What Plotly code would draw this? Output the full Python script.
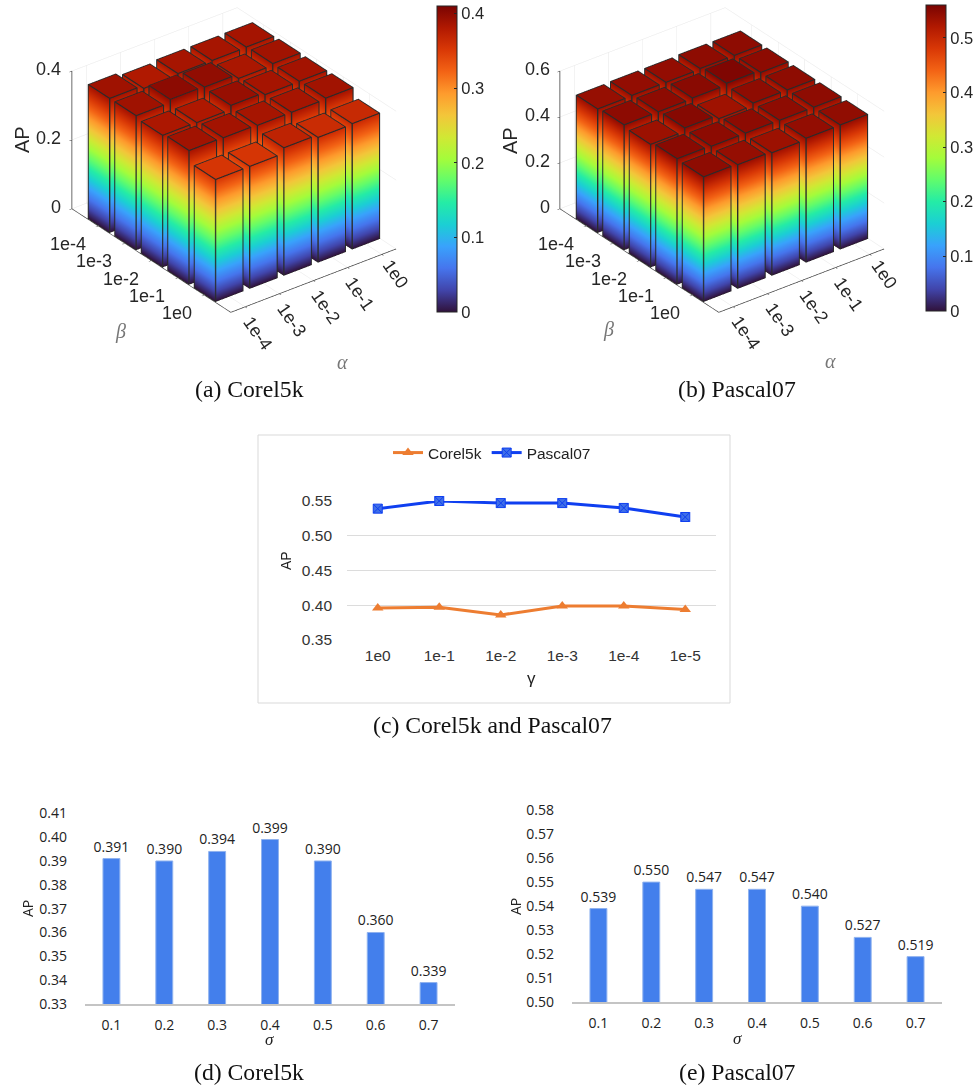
import plotly.graph_objects as go
import plotly.colors as pc

W, H = 979, 1088
alpha_labels = ["1e-4", "1e-3", "1e-2", "1e-1", "1e0"]
beta_labels = ["1e0", "1e-1", "1e-2", "1e-3", "1e-4"]   # front to back
# rows: beta (front to back), columns: alpha
corel_ap = [
    [0.355, 0.355, 0.371, 0.363, 0.365],
    [0.389, 0.388, 0.386, 0.386, 0.389],
    [0.383, 0.382, 0.394, 0.387, 0.388],
    [0.390, 0.3995, 0.397, 0.384, 0.389],
    [0.390, 0.381, 0.386, 0.386, 0.387],
]
pascal_ap = [
    [0.544, 0.540, 0.535, 0.541, 0.542],
    [0.548, 0.545, 0.545, 0.544, 0.544],
    [0.535, 0.550, 0.533, 0.544, 0.544],
    [0.545, 0.545, 0.548, 0.555, 0.545],
    [0.539, 0.541, 0.541, 0.544, 0.544],
]
gamma_labels = ["1e0", "1e-1", "1e-2", "1e-3", "1e-4", "1e-5"]
gamma_corel = [0.396, 0.397, 0.386, 0.399, 0.399, 0.394]
gamma_pascal = [0.539, 0.550, 0.547, 0.547, 0.540, 0.527]
sigma_labels = ["0.1", "0.2", "0.3", "0.4", "0.5", "0.6", "0.7"]
sigma_corel = [0.391, 0.390, 0.394, 0.399, 0.390, 0.360, 0.339]
sigma_pascal = [0.539, 0.550, 0.547, 0.547, 0.540, 0.527, 0.519]

TURBO = pc.sequential.Turbo
SANS = "Liberation Sans"
SERIF = "Liberation Serif"
NOTO = "Open Sans"
INK = "#262626"
XMIN, XMAX = 0.58, 5.42   # just wider than the bars, so the scene does not clip their outer faces
# Only the three faces the camera can see: low-y side, low-x side, top.
BOX_TRIS = [(0, 1, 5), (0, 5, 4), (3, 0, 4), (3, 4, 7), (4, 5, 6), (4, 6, 7)]
BOX_EDGES = [(0, 1), (3, 0), (4, 5), (5, 6), (6, 7), (7, 4), (0, 4), (1, 5), (3, 7)]


def fx(px):
    return px / W


def fy(py):
    return 1 - py / H


def add_box(m, x0, x1, y0, y1, z0, z1):
    b = len(m["x"])
    for z in (z0, z1):
        for a, e in ((x0, y0), (x1, y0), (x1, y1), (x0, y1)):
            m["x"].append(a); m["y"].append(e); m["z"].append(z)
    for t in BOX_TRIS:
        m["i"].append(b + t[0]); m["j"].append(b + t[1]); m["k"].append(b + t[2])


def empty_mesh():
    return dict(x=[], y=[], z=[], i=[], j=[], k=[])


def boxes(values, zmax, bar_w=0.8):
    """Bars back to front, plus their outlines as thin dark prisms along each box edge."""
    bars, lines = empty_mesh(), empty_mesh()
    d = bar_w / 2
    w = 0.011
    wz = zmax * 0.0022
    for r in reversed(range(len(values))):
        for c in reversed(range(len(values[r]))):
            v = values[r][c]
            cx, cy = c + 1, r + 1
            add_box(bars, cx - d, cx + d, cy - d, cy + d, 0, v)
            corners = [(cx - d, cy - d, 0), (cx + d, cy - d, 0), (cx + d, cy + d, 0), (cx - d, cy + d, 0),
                       (cx - d, cy - d, v), (cx + d, cy - d, v), (cx + d, cy + d, v), (cx - d, cy + d, v)]
            for p, q in BOX_EDGES:
                P, Q = corners[p], corners[q]
                add_box(lines, min(P[0], Q[0]) - w, max(P[0], Q[0]) + w,
                        min(P[1], Q[1]) - w, max(P[1], Q[1]) + w,
                        max(min(P[2], Q[2]) - wz, 0), min(max(P[2], Q[2]) + wz, zmax))
    return bars, lines


def add_bars(fig, values, scene, zmax, cmax, ticks, cb_x, cb_top):
    bars, lines = boxes(values, zmax)
    flat = dict(ambient=1, diffuse=0, specular=0, roughness=1, fresnel=0)
    fig.add_trace(go.Mesh3d(
        **bars, intensity=bars["z"], colorscale=TURBO, cmin=0, cmax=cmax,
        flatshading=False, scene=scene, hoverinfo="skip", lighting=flat,
        colorbar=dict(
            x=fx(cb_x), xanchor="left", y=fy(cb_top), yanchor="top", len=306, lenmode="pixels",
            thickness=20, thicknessmode="pixels", tickvals=ticks, ticktext=[f"{t:g}" for t in ticks],
            ticks="inside", ticklen=3, tickcolor=INK, outlinewidth=1, outlinecolor=INK,
            tickfont=dict(family=SANS, size=16.5, color=INK), xpad=0, ypad=0,
        ),
    ))
    fig.add_trace(go.Mesh3d(**lines, color="#2a2a2a", flatshading=True, scene=scene, hoverinfo="skip", lighting=flat))


def scene_layout(x0, zticks, zmax):
    ax = dict(showbackground=False, showgrid=True, gridcolor="#e6e6e6", gridwidth=1,
              zeroline=False, showline=True, linecolor="#3a3a3a", linewidth=1.5,
              ticks="outside", ticklen=3, tickcolor="#3a3a3a", showticklabels=False,
              showspikes=False, title=dict(text=""))
    anns = []
    f = dict(family=SANS, size=18, color=INK)
    for n, t in enumerate(alpha_labels):
        short = len(t) == 3
        anns.append(dict(x=n + 1, y=0, z=0, text=t, showarrow=False, textangle=55,
                         xshift=14 if short else 13, yshift=-20 if short else -26, font=f,
                         xanchor="center", yanchor="middle"))
    for n, t in enumerate(beta_labels):
        anns.append(dict(x=XMIN, y=n + 1, z=0, text=t, showarrow=False, xanchor="right", yanchor="middle",
                         xshift=-10, yshift=-18, font=f))
    for t in zticks:
        anns.append(dict(x=XMIN, y=6, z=t, text=f"{t:g}", showarrow=False, xanchor="right", yanchor="middle",
                         xshift=-8, yshift=2, font=f))
    cx, cy = x0 + 161.8, 160
    half_w, half_h = 225, 155
    r = 2
    return dict(
        domain=dict(x=[fx(cx - half_w), fx(cx + half_w)], y=[fy(cy + half_h), fy(cy - half_h)]),
        aspectmode="manual", aspectratio=dict(x=1.344, y=1.684, z=1.026),
        camera=dict(projection=dict(type="orthographic"), up=dict(x=0, y=0, z=1),
                    center=dict(x=0, y=0, z=0),
                    eye=dict(x=-0.527 * r, y=-0.687 * r, z=0.5 * r)),
        xaxis=dict(ax, range=[XMIN, XMAX], tickvals=[1, 2, 3, 4, 5]),
        yaxis=dict(ax, range=[0, 6], tickvals=[1, 2, 3, 4, 5]),
        zaxis=dict(ax, range=[0, zmax], tickvals=zticks),
        annotations=anns,
        bgcolor="rgba(0,0,0,0)",
    )


fig = go.Figure()
add_bars(fig, corel_ap, "scene", 0.4, 0.41, [0, 0.1, 0.2, 0.3, 0.4], 437, 6)
add_bars(fig, pascal_ap, "scene2", 0.6, 0.56, [0, 0.1, 0.2, 0.3, 0.4, 0.5], 926, 5)

fig.add_trace(go.Scatter(x=gamma_labels, y=gamma_corel, name="Corel5k", mode="lines+markers", xaxis="x", yaxis="y",
                         cliponaxis=False,
                         line=dict(color="#ed7d31", width=3), marker=dict(symbol="triangle-up", size=10, color="#ed7d31")))
fig.add_trace(go.Scatter(x=gamma_labels, y=gamma_pascal, name="Pascal07", mode="lines+markers", xaxis="x", yaxis="y",
                         cliponaxis=False,
                         line=dict(color="#0f3ff0", width=3),
                         marker=dict(symbol="square-x", size=9, color="#3f6fe8", line=dict(color="#0f3ff0", width=1))))
BAR = "#437fec"
for xa, ya, vals in (("x2", "y2", sigma_corel), ("x3", "y3", sigma_pascal)):
    fig.add_trace(go.Bar(x=sigma_labels, y=vals, xaxis=xa, yaxis=ya, showlegend=False, width=0.32,
                         marker=dict(color=BAR, line=dict(color="#8fb2ef", width=1)),
                         text=[f"{v:.3f}" for v in vals], textposition="outside", cliponaxis=False,
                         constraintext="none",
                         textangle=0, textfont=dict(family=NOTO, size=14, color="#222222")))

axis_font = dict(family=SANS, size=15.5, color="#333333")
bar_font = dict(family=NOTO, size=14, color="#222222")


def bar_x(x0, x1):
    return dict(domain=[fx(x0), fx(x1)], type="category", showgrid=False, range=[-0.5, 6.5],
                showline=True, linecolor="#c4c4c4", linewidth=2, ticks="", tickfont=bar_font,
                ticklabelstandoff=7)


captions = [("(a) Corel5k", 249, 389), ("(b) Pascal07", 737, 389), ("(c) Corel5k and Pascal07", 493, 725),
            ("(d) Corel5k", 249, 1072), ("(e) Pascal07", 737, 1072)]
mid = dict(xref="paper", yref="paper", showarrow=False, xanchor="center", yanchor="middle")
anns = [dict(mid, text=t, x=fx(px), y=fy(py), font=dict(family=SERIF, size=23.7, color="#111111")) for t, px, py in captions]
anns += [dict(mid, text="AP", x=fx(px), y=fy(140), textangle=-90,
              font=dict(family=SANS, size=20, color=INK)) for px in (22, 510)]
anns += [dict(mid, text=t, x=fx(px), y=fy(py), font=dict(family=SERIF, size=20, color="#777777"))
         for t, px, py in [("<i>β</i>", 120, 331), ("<i>α</i>", 342, 362), ("<i>β</i>", 608, 330), ("<i>α</i>", 830, 361)]]
anns += [dict(mid, text="<i>σ</i>", x=fx(px), y=fy(py), font=dict(family=SERIF, size=17, color="#222222"))
         for px, py in [(269, 1039), (737.5, 1038)]]
anns += [dict(mid, text="AP", x=fx(px), y=fy(py), textangle=-90, font=dict(family=NOTO, size=14, color="#222222"))
         for px, py in [(27, 909), (515, 907)]]
anns += [dict(mid, text="γ", x=fx(531), y=fy(678), font=dict(family=SANS, size=17, color="#222222")),
         dict(mid, text="AP", x=fx(286), y=fy(561), textangle=-90, font=dict(family=SANS, size=14, color="#222222"))]

fig.update_layout(
    width=W, height=H, margin=dict(l=0, r=0, t=0, b=0, autoexpand=False), paper_bgcolor="white",
    plot_bgcolor="rgba(0,0,0,0)",
    scene=scene_layout(71.7, [0, 0.2, 0.4], 0.4),
    scene2=scene_layout(72.7 + 487.5, [0, 0.2, 0.4, 0.6], 0.6),
    xaxis=dict(domain=[fx(347), fx(716)], type="category", range=[-0.5, 5.5], showgrid=False, showline=False, ticks="",
               tickfont=axis_font, anchor="y", ticklabelstandoff=4),
    yaxis=dict(domain=[fy(640), fy(501)], range=[0.35, 0.55], tickvals=[0.35, 0.40, 0.45, 0.50, 0.55],
               tickformat=".2f", gridcolor="#dcdcdc", gridwidth=1, zeroline=False, showline=False,
               tickfont=axis_font, anchor="x", ticks="", ticklabelstandoff=14),
    xaxis2=dict(bar_x(85, 455), anchor="y2"),
    yaxis2=dict(domain=[fy(1004), fy(813.3)], range=[0.33, 0.41], dtick=0.01, tickformat=".2f", showgrid=False,
                zeroline=False, showline=False, tickfont=bar_font, anchor="x2", ticks="", ticklabelstandoff=17),
    xaxis3=dict(bar_x(572, 942), anchor="y3"),
    yaxis3=dict(domain=[fy(1002.3), fy(810)], range=[0.50, 0.58], dtick=0.01, tickformat=".2f", showgrid=False,
                zeroline=False, showline=False, tickfont=bar_font, anchor="x3", ticks="", ticklabelstandoff=17),
    legend=dict(orientation="h", x=fx(492), xanchor="center", y=fy(453), yanchor="middle",
                font=dict(family=SANS, size=15.5, color="#222222"), bgcolor="rgba(0,0,0,0)",
                itemwidth=30, traceorder="normal"),
    shapes=[dict(type="rect", xref="paper", yref="paper", x0=fx(258), x1=fx(730), y0=fy(703), y1=fy(435),
                 line=dict(color="#d9d9d9", width=1), fillcolor="rgba(0,0,0,0)", layer="below")],
    annotations=anns,
)

fig.write_html("out.html", config=dict(displayModeBar=False),
               post_script="document.body.style.margin='0';document.documentElement.style.overflow='hidden';")
